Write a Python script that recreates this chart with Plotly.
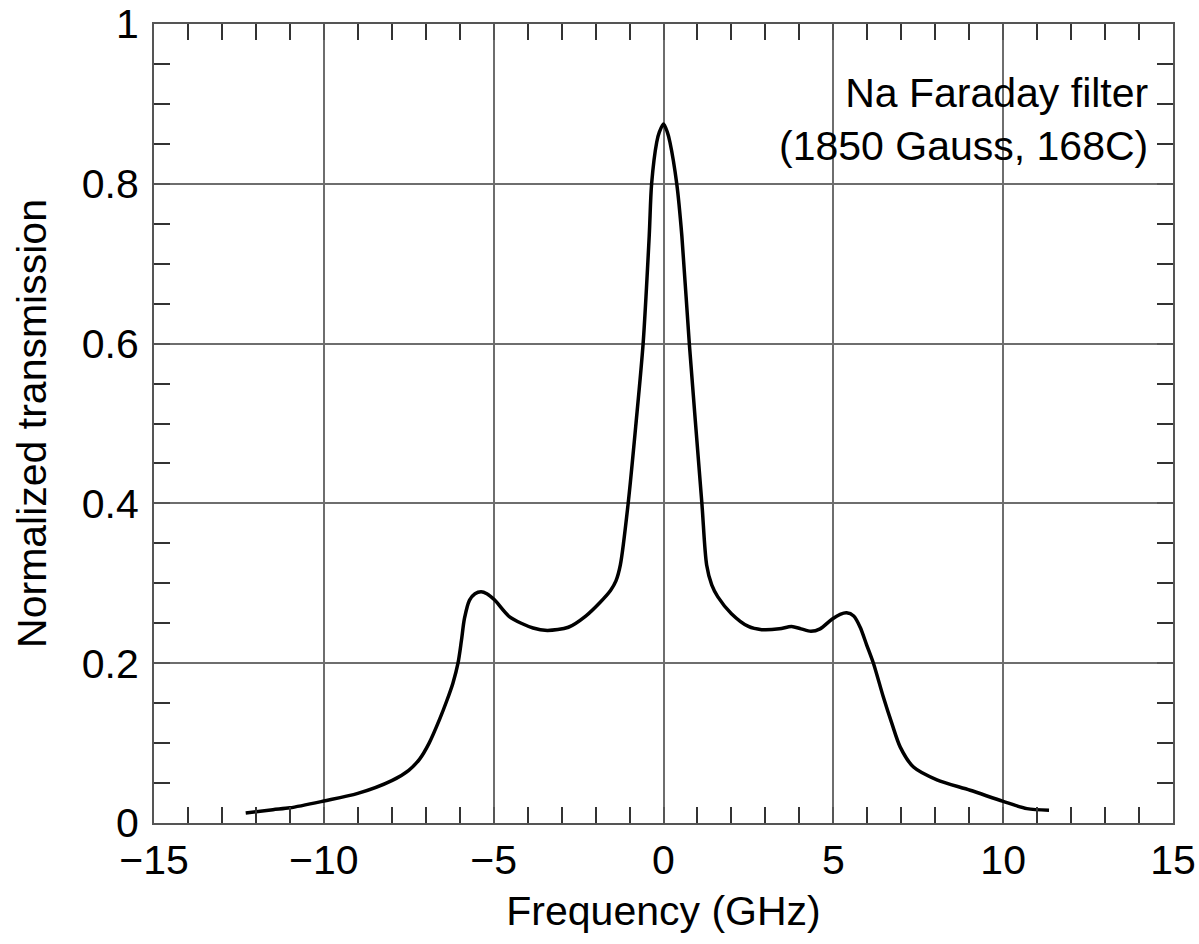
import plotly.graph_objects as go

# Frequency (GHz) and normalized transmission
freq = [-12.3, -11.5, -11.0, -10.0, -9.0, -8.0, -7.5, -7.18, -6.9, -6.59, -6.38,
        -6.2, -6.05, -5.95, -5.86, -5.71, -5.55, -5.37, -5.2, -4.97, -4.53, -3.84, -3.42,
        -2.80, -2.29, -1.87, -1.56, -1.40, -1.27, -1.04, -0.81, -0.60, -0.42, -0.35,
        -0.20, -0.12, 0.0, 0.11, 0.19, 0.39, 0.54, 0.76, 1.13, 1.27, 1.42,
        1.60, 2.00, 2.50, 2.89, 3.41, 3.77, 4.05, 4.34, 4.61, 4.96, 5.20, 5.39,
        5.60, 5.79, 5.98, 6.18, 6.47, 6.72, 6.97, 7.36, 8.05, 9.03, 10.0, 10.7, 11.35]
trans = [0.0125, 0.0167, 0.019, 0.0275, 0.037, 0.053, 0.066, 0.080, 0.100, 0.130, 0.153,
         0.175, 0.200, 0.228, 0.256, 0.279, 0.287, 0.2895, 0.287, 0.279, 0.258, 0.244, 0.241,
         0.245, 0.259, 0.276, 0.291, 0.303, 0.323, 0.400, 0.500, 0.600, 0.735, 0.800,
         0.852, 0.865, 0.875, 0.865, 0.852, 0.800, 0.735, 0.600, 0.400, 0.323, 0.298,
         0.283, 0.262, 0.246, 0.242, 0.243, 0.246, 0.243, 0.240, 0.243, 0.255, 0.261, 0.263,
         0.259, 0.245, 0.223, 0.200, 0.158, 0.125, 0.095, 0.070, 0.054, 0.041, 0.027, 0.018, 0.016]

x_ticks = [-15, -10, -5, 0, 5, 10, 15]
y_ticks = [0, 0.2, 0.4, 0.6, 0.8, 1]

FONT = "Liberation Sans, Arial, Helvetica, sans-serif"
FS = 41

fig = go.Figure()
fig.add_trace(go.Scatter(x=freq, y=trans, mode="lines",
                         line=dict(color="black", width=3.5, shape="spline", smoothing=0.8),
                         showlegend=False, hoverinfo="skip"))

axis_common = dict(
    showline=True, linecolor="#555555", linewidth=2, mirror="ticks",
    ticks="inside", ticklen=16, tickwidth=2, tickcolor="#555555",
    showgrid=True, gridcolor="#6e6e6e", gridwidth=2,
    zeroline=False, automargin=False,
    tickfont=dict(family=FONT, size=FS, color="black"),
)

fig.update_xaxes(
    range=[-15, 15], tickmode="array", tickvals=x_ticks,
    minor=dict(dtick=1, tick0=0, ticks="inside", ticklen=16, tickwidth=2, tickcolor="#333333", showgrid=False),
    title=dict(text="Frequency (GHz)", font=dict(family=FONT, size=FS, color="black"), standoff=14),
    **axis_common,
)
fig.update_yaxes(
    range=[0, 1], tickmode="array", tickvals=y_ticks,
    minor=dict(dtick=0.05, tick0=0, ticks="inside", ticklen=16, tickwidth=2, tickcolor="#333333", showgrid=False),
    title=dict(text="Normalized transmission", font=dict(family=FONT, size=FS, color="black"), standoff=22),
    ticklabelstandoff=5,
    **axis_common,
)

fig.add_annotation(
    xref="paper", yref="paper", x=0.977, y=0.945, xanchor="right", yanchor="top",
    text="Na Faraday filter<br>(1850 Gauss, 168C)", align="right", showarrow=False,
    font=dict(family=FONT, size=FS, color="black"),
)

fig.update_layout(
    width=1199, height=944,
    margin=dict(l=154, r=26, t=24, b=121),
    paper_bgcolor="white", plot_bgcolor="white",
    font=dict(family=FONT, size=FS, color="black"),
)

fig.write_html("out.html", config={"displayModeBar": False},
               post_script="document.body.style.margin='0';document.body.style.overflow='hidden';")
